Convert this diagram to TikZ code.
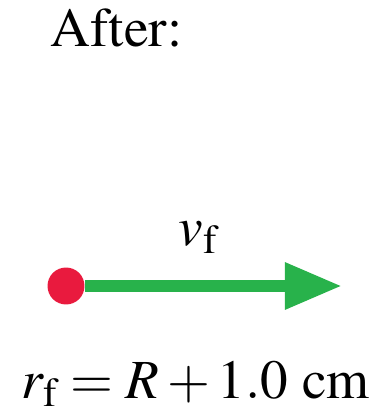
\documentclass[tikz,border=0pt]{standalone}
\usepackage[T1]{fontenc}
\usepackage{mathptmx}
\usetikzlibrary{arrows.meta}
\definecolor{dotred}{RGB}{233,26,62}
\definecolor{arrowgreen}{RGB}{40,178,75}

\begin{document}
\begin{tikzpicture}[every node/.style={font=\fontsize{15.7}{19}\selectfont,inner sep=0pt}]
\useasboundingbox (0,0) rectangle (3.78,4.18);
\node[anchor=base west] (after) at (0.50,3.72) {After:};
\node[circle,fill=dotred,minimum size=0.37cm] (ball) at (0.66,1.32) {};
\coordinate (tip) at (3.42,1.32);
\draw[arrowgreen,line width=0.12cm,-{Triangle[length=0.57cm,width=0.44cm]}] (ball) -- (tip);
\node[anchor=base west] (vel) at (1.78,1.73) {$v_{\mathrm{f}}$};
\node[anchor=base west] (radius) at (0.21,0.20) {$r_{\mathrm{f}} = R + 1.0\ \mathrm{cm}$};
\end{tikzpicture}
\end{document}
